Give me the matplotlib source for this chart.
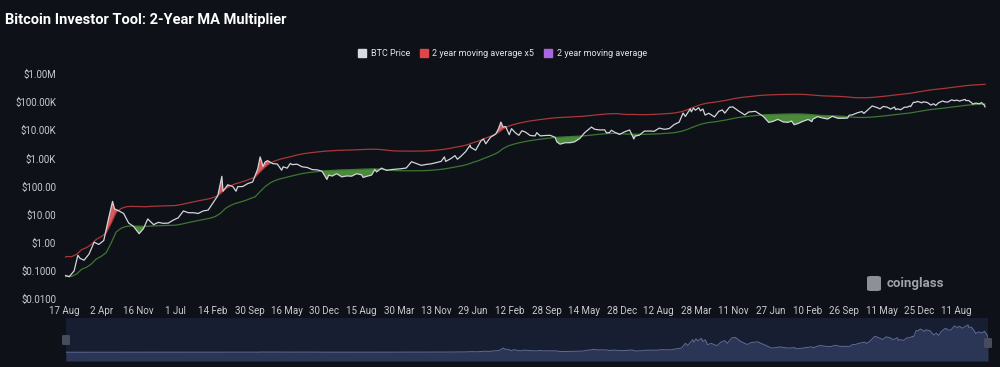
import numpy as np
import pandas as pd
import matplotlib
matplotlib.use('Agg')
import matplotlib.pyplot as plt
import matplotlib.dates as mdates
from matplotlib.lines import Line2D
from matplotlib.patches import FancyBboxPatch

plt.rcParams['font.family'] = ['Roboto', 'DejaVu Sans']

# BTC price (monthly points plus the big tops / bottoms)
price_dates = [
    '2010-08-17', '2010-09-15', '2010-10-15', '2010-11-07', '2010-11-20', '2010-12-15',
    '2011-01-15', '2011-02-15', '2011-03-15', '2011-04-15', '2011-05-01', '2011-05-15', '2011-06-08',
    '2011-06-20', '2011-07-15', '2011-08-15', '2011-09-15', '2011-10-15', '2011-11-18', '2011-12-15',
    '2012-01-10', '2012-02-15', '2012-03-15', '2012-04-15', '2012-05-15', '2012-06-15', '2012-07-15',
    '2012-08-16', '2012-09-15', '2012-10-15', '2012-11-15', '2012-12-15',
    '2013-01-15', '2013-02-15', '2013-03-15', '2013-04-09', '2013-04-16', '2013-05-15', '2013-06-15',
    '2013-07-05', '2013-07-15', '2013-08-15', '2013-09-15', '2013-10-15', '2013-11-15', '2013-11-30',
    '2013-12-18', '2013-12-31',
    '2014-01-15', '2014-02-15', '2014-03-15', '2014-04-11', '2014-04-20', '2014-05-15', '2014-06-03',
    '2014-06-15', '2014-07-15', '2014-08-15', '2014-09-15', '2014-10-15', '2014-11-15', '2014-12-15',
    '2015-01-14', '2015-01-25', '2015-02-15', '2015-03-15', '2015-04-15', '2015-05-15', '2015-06-15',
    '2015-07-15', '2015-08-15', '2015-08-24', '2015-09-15', '2015-10-15', '2015-11-04', '2015-11-15',
    '2015-12-15',
    '2016-01-15', '2016-02-15', '2016-03-15', '2016-04-15', '2016-05-15', '2016-06-16', '2016-07-15',
    '2016-08-15', '2016-09-15', '2016-10-15', '2016-11-15', '2016-12-15',
    '2017-01-04', '2017-01-12', '2017-02-15', '2017-03-10', '2017-03-25', '2017-04-15', '2017-05-15',
    '2017-06-11', '2017-06-15', '2017-07-15', '2017-08-15', '2017-09-01', '2017-09-15', '2017-10-15',
    '2017-11-15', '2017-12-01', '2017-12-17', '2017-12-30',
    '2018-01-15', '2018-02-06', '2018-02-20', '2018-03-15', '2018-04-06', '2018-04-25', '2018-05-15',
    '2018-06-15', '2018-07-15', '2018-07-25', '2018-08-15', '2018-09-15', '2018-10-15', '2018-11-15',
    '2018-11-25', '2018-12-15',
    '2019-01-15', '2019-02-15', '2019-03-15', '2019-04-15', '2019-05-15', '2019-06-26', '2019-07-15',
    '2019-08-15', '2019-09-15', '2019-09-26', '2019-10-15', '2019-10-26', '2019-11-15', '2019-12-15',
    '2020-01-15', '2020-02-15', '2020-03-12', '2020-03-20', '2020-04-15', '2020-05-15', '2020-06-15',
    '2020-07-15', '2020-08-15', '2020-09-15', '2020-10-15', '2020-11-15', '2020-12-15',
    '2021-01-08', '2021-01-22', '2021-02-21', '2021-02-28', '2021-03-13', '2021-03-25', '2021-04-14',
    '2021-04-25', '2021-05-10', '2021-05-23', '2021-06-15', '2021-07-20', '2021-08-15', '2021-09-06',
    '2021-09-21', '2021-10-20', '2021-11-10', '2021-11-28', '2021-12-15',
    '2022-01-22', '2022-02-15', '2022-03-28', '2022-04-15', '2022-05-15', '2022-06-18', '2022-07-15',
    '2022-08-13', '2022-09-15', '2022-10-15', '2022-11-05', '2022-11-21', '2022-12-15',
    '2023-01-15', '2023-02-15', '2023-03-10', '2023-03-15', '2023-04-14', '2023-05-15', '2023-06-15',
    '2023-07-13', '2023-08-17', '2023-09-15', '2023-10-15', '2023-10-24', '2023-11-15', '2023-12-15',
    '2024-01-11', '2024-01-23', '2024-02-15', '2024-03-14', '2024-04-15', '2024-05-01', '2024-05-21',
    '2024-06-15', '2024-07-05', '2024-07-29', '2024-08-05', '2024-08-15', '2024-09-06', '2024-09-27',
    '2024-10-15', '2024-10-29', '2024-11-05', '2024-11-22', '2024-12-05', '2024-12-17',
    '2025-01-13', '2025-01-20', '2025-02-15', '2025-03-10', '2025-03-25', '2025-04-08', '2025-04-25',
    '2025-05-21', '2025-06-05', '2025-06-22', '2025-07-14', '2025-08-02', '2025-08-14', '2025-09-01',
    '2025-09-18', '2025-10-06', '2025-10-10', '2025-10-27', '2025-11-15', '2025-11-21', '2025-12-10',
    '2025-12-31',
    '2026-01-14', '2026-01-31', '2026-02-05',
]
btc_price = [
    0.07, 0.062, 0.10, 0.36, 0.28, 0.24,
    0.40, 1.05, 0.87, 1.2, 3.2, 7.5, 29.6, 16, 13.8, 11, 5, 3.8, 2.1, 3.2,
    7.0, 4.4, 5.3, 4.9, 5.0, 6.4, 7.7, 13.5, 11.7, 11.7, 11.0, 13.5,
    14.5, 27, 47, 230, 68, 115, 100, 68, 98, 100, 127, 145, 420, 1130, 520, 750,
    830, 650, 630, 380, 500, 450, 660, 600, 620, 500, 475, 400, 390, 350,
    178, 255, 235, 285, 220, 237, 233, 285, 260, 210, 230, 255, 400, 330, 450,
    375, 400, 415, 430, 455, 760, 660, 565, 610, 640, 710, 780,
    1130, 780, 1000, 1250, 930, 1180, 1750, 2950, 2450, 1950, 4100, 4900, 3300, 5700, 7300, 10900,
    19500, 13000,
    13600, 6950, 11400, 8200, 6600, 9600, 8700, 6500, 6300, 8200, 6300, 6500, 6600, 5600, 3900, 3200,
    3600, 3600, 3900, 5100, 8200, 13000, 10800, 10300, 10300, 8100, 8300, 10000, 8500, 7100,
    8800, 10200, 4900, 6200, 6700, 9300, 9400, 9200, 11900, 10800, 11500, 16000, 19400,
    40800, 31000, 57500, 45200, 61200, 51600, 63500, 49000, 56700, 34700, 40200, 29800, 47000, 52700,
    40600, 66000, 67500, 57200, 48400,
    35100, 44500, 47100, 40500, 31300, 19000, 20800, 24400, 19700, 19100, 21300, 15800, 17400,
    20900, 24300, 20200, 24700, 30500, 27200, 25100, 31400, 26600, 26600, 27100, 33900, 35600, 41900,
    46300, 39500, 51900, 73100, 63400, 57700, 70100, 66000, 56700, 66800, 54000, 57500, 53900, 65800,
    66000, 72700, 69400, 98900, 98000, 106100,
    94500, 102300, 97500, 78500, 87500, 76300, 94600, 109600, 101600, 100900, 119800, 112500, 118300,
    109200, 117200, 124700, 113200, 114100, 94500, 85000, 92500, 87500,
    96000, 78000, 68000,
]

# 2 year moving average: first day, then each month end, then last day
ma_dates = (['2010-08-17']
            + [d.strftime('%Y-%m-%d') for d in pd.date_range('2010-08-31', '2026-01-31', freq='ME')]
            + ['2026-02-05'])
ma_2y = [
    0.06,
    0.065, 0.064, 0.078, 0.114, 0.135,
    0.18, 0.264, 0.33, 0.446, 1.0, 2.41, 3.3, 3.82, 3.93, 3.9, 3.84, 3.82,
    3.95, 4.01, 4.06, 4.10, 4.14, 4.22, 4.55, 4.98, 5.46, 5.94, 6.40, 6.94,
    7.59, 8.59, 11.06, 16.4, 21.1, 24.9, 27.9, 31.8, 37.0, 43.5, 66.3, 99.5,
    135, 162, 186, 205, 226, 251, 277, 298, 316, 331, 346, 360,
    369, 378, 387, 391, 396, 401, 410, 416, 420, 424, 416, 400,
    381, 370, 364, 363, 361, 362, 364, 366, 373, 384, 399, 419,
    447, 482, 517, 558, 627, 727, 820, 980, 1137, 1347, 1640, 2248,
    2773, 3131, 3501, 3816, 4151, 4408, 4676, 4931, 5181, 5425, 5620, 5739,
    5855, 5965, 6085, 6251, 6472, 6754, 7092, 7367, 7608, 7738, 7779, 7458,
    7267, 7296, 7196, 7158, 7192, 7304, 7408, 7617, 7788, 8013, 8475, 9225,
    10517, 12279, 14383, 16542, 18200, 19300, 20292, 21750, 23258, 25321, 27496, 29246,
    30608, 31904, 33363, 34796, 35733, 36354, 36850, 37300, 37679, 38000, 38046, 37850,
    37250, 36304, 35079, 33908, 33096, 32763, 32583, 31833, 31013, 29829, 28825, 28533,
    28604, 28975, 30042, 31046, 32421, 34167, 35829, 37392, 39079, 40992, 43863, 47258,
    50600, 53671, 56146, 58525, 61629, 64846, 68383, 72021, 75613, 79133, 81571, 83517,
    85483, 85700,
]
multiplier = 5

x_tick_dates = [
    '2010-08-17', '2011-04-02', '2011-11-16', '2012-07-01', '2013-02-14', '2013-09-30', '2014-05-16',
    '2014-12-30', '2015-08-15', '2016-03-30', '2016-11-13', '2017-06-29', '2018-02-12', '2018-09-28',
    '2019-05-14', '2019-12-28', '2020-08-12', '2021-03-28', '2021-11-11', '2022-06-27', '2023-02-10',
    '2023-09-26', '2024-05-11', '2024-12-25', '2025-08-11',
]
y_labels = ['$0.0100', '$0.1000', '$1.00', '$10.00', '$100.00', '$1.00K', '$10.00K', '$100.00K', '$1.00M']
legend_labels = ['BTC Price', '2 year moving average x5', '2 year moving average']

assert len(price_dates) == len(btc_price)
assert len(ma_dates) == len(ma_2y)

bg = '#0e1117'
price_col = '#d2d5da'
red_line = '#a8383a'
green_line = '#3d7632'
red_fill = '#d9585a'
green_fill = '#4a8a3a'

px = mdates.date2num(pd.to_datetime(price_dates))
mx = mdates.date2num(pd.to_datetime(ma_dates))
price = np.array(btc_price, dtype=float)
ma = np.array(ma_2y, dtype=float)

# daily grid only used to shade between the curves
t = np.arange(px[0], px[-1] + 0.5, 1.0)
p_d = 10 ** np.interp(t, px, np.log10(price))
m_d = 10 ** np.interp(t, mx, np.log10(ma))

fig = plt.figure(figsize=(10, 3.67), dpi=100, facecolor=bg)
ax = fig.add_axes([0.0645, 1 - 299 / 367, 0.9235, 225 / 367])
ax.set_facecolor(bg)

ax.fill_between(t, p_d, m_d, where=p_d < m_d, color=green_fill, lw=0, interpolate=True)
ax.fill_between(t, p_d, multiplier * m_d, where=p_d > multiplier * m_d, color=red_fill, lw=0,
                interpolate=True)
ax.plot(mx, ma * multiplier, color=red_line, lw=0.9)
ax.plot(mx, ma, color=green_line, lw=0.9)
ax.plot(px, price, color=price_col, lw=0.9)

ax.set_yscale('log')
ax.set_ylim(0.01, 1e6)
ax.set_yticks([10.0 ** k for k in range(-2, 7)])
ax.set_yticklabels(y_labels)
ax.minorticks_off()

start = pd.Timestamp('2010-08-17')
x_end = start + pd.Timedelta(days=5669)
ax.set_xlim(mdates.date2num(start), mdates.date2num(x_end))
ticks = pd.to_datetime(x_tick_dates)
ax.set_xticks(mdates.date2num(ticks))
ax.set_xticklabels([f"{d.day} {d.strftime('%b')}" for d in ticks])

ax.tick_params(axis='both', length=0, colors='#c9cbd0', labelsize=7)
ax.tick_params(axis='y', pad=6)
ax.tick_params(axis='x', pad=5)
for s in ax.spines.values():
    s.set_visible(False)

# legend
handles = [Line2D([], [], ls='', marker='s', ms=5.5, color=c)
           for c in ['#d9dbe0', '#e04646', '#a867e0']]
fig.legend(handles, legend_labels, loc='center', bbox_to_anchor=(0.503, 1 - 54 / 367),
           ncol=3, frameon=False, fontsize=6.5, labelcolor='#e4e5e8',
           handlelength=0.7, handletextpad=0.6, columnspacing=1.2)

fig.text(0.005, 1 - 20 / 367, 'Bitcoin Investor Tool: 2-Year MA Multiplier',
         color='white', fontsize=10.5, fontweight='bold', va='center')

# watermark
fig.text(0.887, 1 - 283 / 367, 'coinglass', color='#9fa2a8', fontsize=9.5,
         fontweight='bold', va='center')
fig.patches.append(FancyBboxPatch((0.867, 1 - 291 / 367), 0.014, 15 / 367,
                                  boxstyle='round,pad=0,rounding_size=0.004',
                                  transform=fig.transFigure, facecolor='#8d9096', edgecolor='none'))

# navigator
nav = fig.add_axes([0.066, 6 / 367, 0.922, 43 / 367])
nav.set_facecolor('#181e31')
nav.fill_between(px, -40000, price, color='#2b3657', lw=0)
nav.plot(px, price, color='#5f6d94', lw=0.7)
nav.set_ylim(-40000, 156000)
nav.set_xlim(px[0], px[-1])
nav.set_xticks([])
nav.set_yticks([])
for s in nav.spines.values():
    s.set_visible(False)

for hx, hy in [(0.062, 1 - 345 / 367), (0.984, 1 - 348 / 367)]:
    fig.patches.append(FancyBboxPatch((hx, hy), 0.008, 10 / 367, boxstyle='round,pad=0,rounding_size=0.002',
                                      transform=fig.transFigure, facecolor='#464c5e', edgecolor='none'))

fig.savefig('out.png', dpi=100, facecolor=bg)
